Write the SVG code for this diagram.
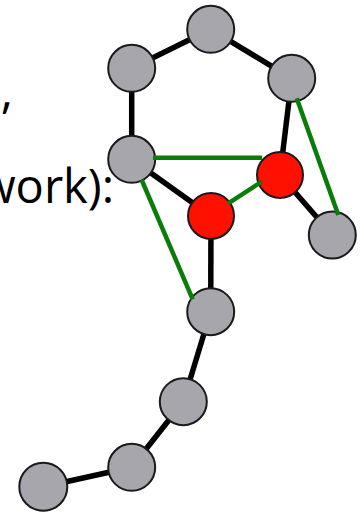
<svg xmlns="http://www.w3.org/2000/svg" width="364" height="515" viewBox="0 0 364 515">
<style>
.txt{font-family:"Open Sans","Liberation Sans",sans-serif;font-size:47px;fill:#000}
.e{stroke:#000;stroke-width:5.5;fill:none}
.g{stroke:#0a7c0a;stroke-width:4.5;fill:none}
.n{fill:#a7a6ac;stroke:#1a1a1a;stroke-width:2}
.r{fill:#ff1000;stroke:#1a1a1a;stroke-width:2}
</style>
<rect width="364" height="515" fill="#fff"/>
<text class="txt" x="13" y="108" text-anchor="end">,</text>
<text class="txt" x="114" y="203" text-anchor="end">work):</text>
<g id="connectors">
<line class="e" x1="131.7" y1="68.3" x2="210.7" y2="29.3"/>
<line class="e" x1="210.7" y1="29.3" x2="291.7" y2="78.3"/>
<line class="e" x1="131.7" y1="68.3" x2="131.7" y2="159.3"/>
<line class="e" x1="291.7" y1="78.3" x2="280" y2="175"/>
<line class="e" x1="131.7" y1="159.3" x2="211" y2="216"/>
<line class="e" x1="280" y1="175" x2="332.3" y2="235"/>
<line class="e" x1="211" y1="216" x2="210.7" y2="311.7"/>
<line class="e" x1="210.7" y1="311.7" x2="183.3" y2="401.7"/>
<line class="e" x1="183.3" y1="401.7" x2="131.7" y2="467.3"/>
<line class="e" x1="131.7" y1="467.3" x2="43.3" y2="486.7"/>
</g>
<g id="n1"><circle class="n" cx="131.7" cy="68.3" r="23.5"/></g>
<g id="n2"><circle class="n" cx="210.7" cy="29.3" r="23.5"/></g>
<g id="n3"><circle class="n" cx="291.7" cy="78.3" r="23.5"/></g>
<g id="n4"><circle class="n" cx="131.7" cy="159.3" r="23.5"/></g>
<g id="n5"><circle class="r" cx="280" cy="175" r="23"/></g>
<g id="n6"><circle class="r" cx="211" cy="216" r="23"/></g>
<g id="n7"><circle class="n" cx="332.3" cy="235" r="23.5"/></g>
<g id="n8"><circle class="n" cx="210.7" cy="311.7" r="23.5"/></g>
<g id="n9"><circle class="n" cx="183.3" cy="401.7" r="23.5"/></g>
<g id="n10"><circle class="n" cx="131.7" cy="467.3" r="23.5"/></g>
<g id="n11"><circle class="n" cx="43.3" cy="486.7" r="24"/></g>
<g id="green-connectors">
<line class="g" x1="153" y1="157.7" x2="262" y2="157.7"/>
<line class="g" x1="261.7" y1="181.7" x2="228.3" y2="203.3"/>
<line class="g" x1="296.7" y1="98.3" x2="338.3" y2="215"/>
<line class="g" x1="141.7" y1="180" x2="192.7" y2="299.3"/>
</g>
</svg>
